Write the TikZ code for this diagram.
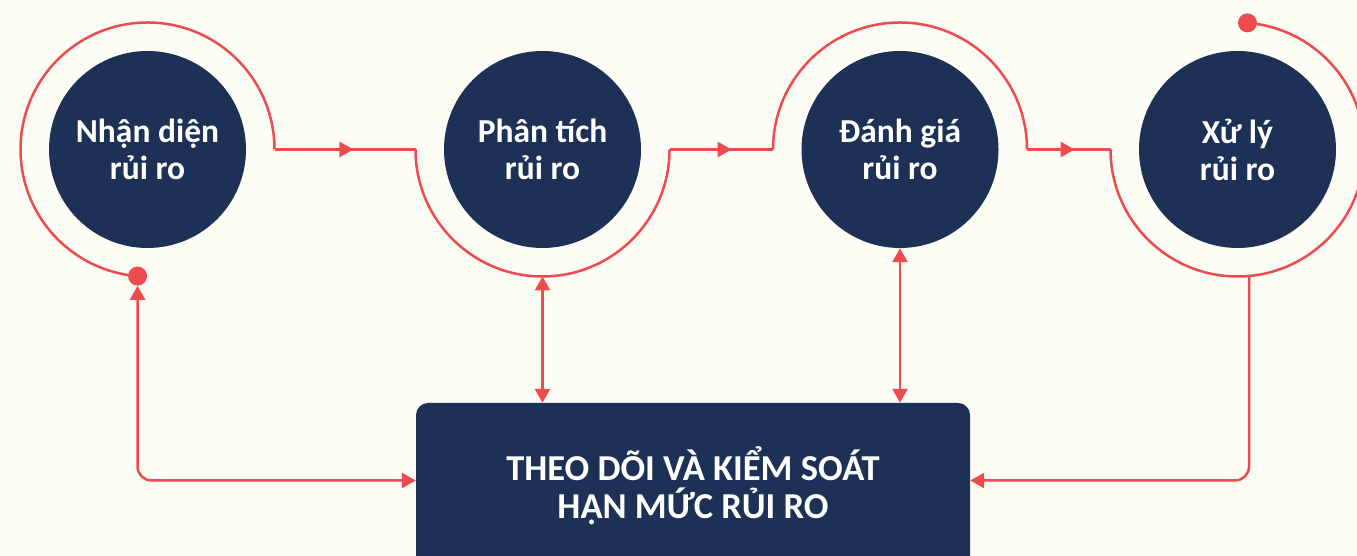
\documentclass[tikz,border=0pt]{standalone}
\usepackage{fontspec}
\setmainfont{Carlito}
\usetikzlibrary{arrows.meta, positioning, calc, decorations.markings}
\definecolor{PaperWhite}{HTML}{FDFCF5}
\definecolor{NavyBlue}{HTML}{1D3157}
\definecolor{AlertRed}{HTML}{EE4B4E}

\tikzset{
  >={Triangle[length=14pt,width=15pt]},
  stage/.style={circle, fill=NavyBlue, text=white, minimum size=197pt,
                inner sep=0pt, align=center,
                font=\fontsize{33.5}{37}\selectfont\bfseries},
  ring/.style={AlertRed, line width=2.5pt},
  link/.style={AlertRed, line width=2.5pt, rounded corners=14pt},
  midarrow/.style={postaction={decorate}, decoration={markings,
                   mark=at position #1 with {\arrow{>}}}},
  enddot/.style={circle, fill=AlertRed, minimum size=19pt, inner sep=0pt},
}

\begin{document}
\begin{tikzpicture}[x=1pt, y=1pt]
    % Canvas
    \fill[PaperWhite] (0,0) rectangle (1357,556);
    \useasboundingbox (0,0) rectangle (1357,556);
    \clip (0,0) rectangle (1357,556);

    % Steps in sequence
    \node[stage] (s1) at (147.5,406.5) {Nhận diện\\rủi ro};
    \node[stage] (s2) at (542.5,406.5) {Phân tích\\rủi ro};
    \node[stage] (s3) at (900,406.5) {Đánh giá\\rủi ro};
    \node[stage] (s4) at (1237.5,406.5) {Xử lý\\rủi ro};

    % Control box
    \node[rectangle, rounded corners=12pt, fill=NavyBlue, text=white,
          minimum width=554pt, minimum height=165pt, align=center,
          font=\fontsize{36.5}{38}\selectfont\bfseries]
          (ctrl) at (693,70.5) {THEO DÕI VÀ KIỂM SOÁT\\HẠN MỨC RỦI RO};

    % Ring ends
    \coordinate (r1a) at ($(s1)+(0:127pt)$);
    \coordinate (r1b) at ($(s1)+(265.5:127pt)$);
    \coordinate (r2a) at ($(s2)+(180:127pt)$);
    \coordinate (r2b) at ($(s2)+(0:127pt)$);
    \coordinate (r2low) at ($(s2)+(270:127pt)$);
    \coordinate (r3a) at ($(s3)+(180:127pt)$);
    \coordinate (r3b) at ($(s3)+(0:127pt)$);
    \coordinate (r4a) at ($(s4)+(180:127pt)$);
    \coordinate (r4b) at ($(s4)+(85.5:127pt)$);
    \coordinate (r4low) at ($(s4)+(275.2:127pt)$);

    % Rings
    \draw[ring] (r1a) arc[start angle=0, end angle=265.5, radius=127pt];
    \draw[ring] (r2a) arc[start angle=180, end angle=360, radius=127pt];
    \draw[ring] (r3a) arc[start angle=180, end angle=0, radius=127pt];
    \draw[ring] (r4a) arc[start angle=180, end angle=445.5, radius=127pt];
    \node[enddot] (d1) at (r1b) {};
    \node[enddot] (d4) at (r4b) {};

    % Arrows between steps
    \draw[link, midarrow=0.56] (r1a) -- (r2a);
    \draw[link, midarrow=0.6] (r2b) -- (r3a);
    \draw[link, midarrow=0.57] (r3b) -- (r4a);

    % Arrows to and from the control box
    \draw[link, <->] (d1.south) |- ([yshift=5pt]ctrl.west);
    \draw[link, <->] (r2low) -- (r2low |- ctrl.north);
    \draw[link, <->] (s3.south) -- (s3.south |- ctrl.north);
    \draw[link, ->] (r4low) |- ([yshift=5pt]ctrl.east);
\end{tikzpicture}
\end{document}
